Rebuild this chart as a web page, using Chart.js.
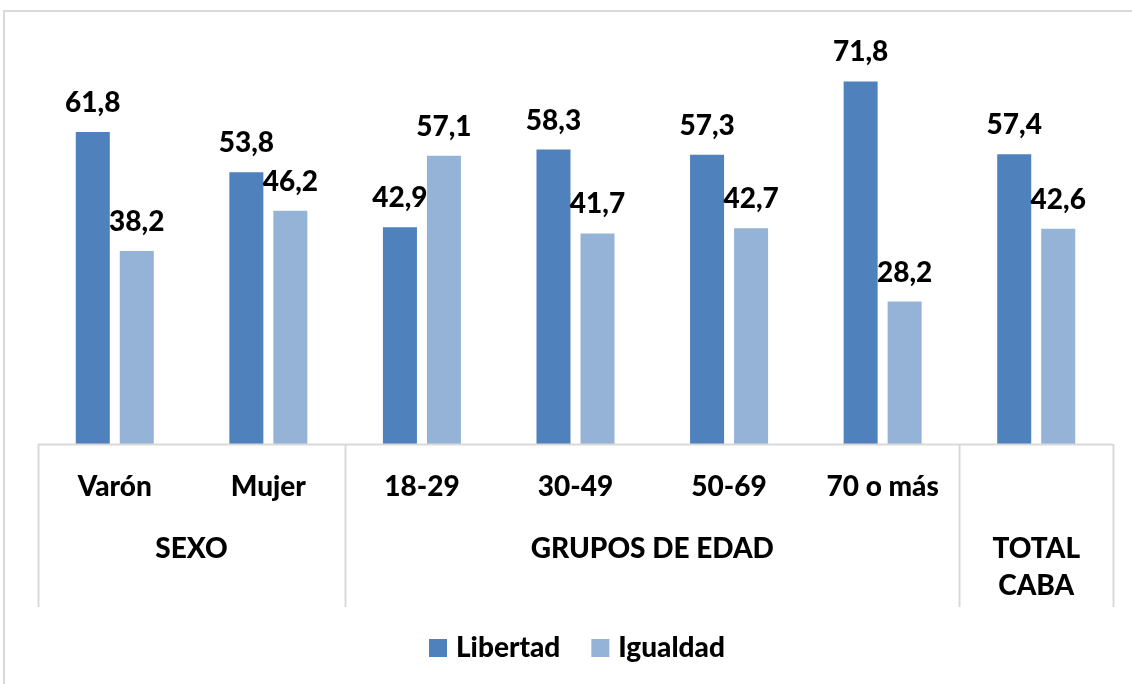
<!DOCTYPE html>
<html>
<head>
<meta charset="utf-8">
<script src="https://cdn.jsdelivr.net/npm/chart.js@4/dist/chart.umd.min.js"></script>
<style>
  html, body { margin: 0; padding: 0; background: #fff; }
  #wrap { position: relative; width: 1132px; height: 684px; }
</style>
</head>
<body>
<div id="wrap"><canvas id="chart" width="1132" height="684"></canvas></div>
<script>
// categorias del eje x y sus grupos
const categories = ['Varón', 'Mujer', '18-29', '30-49', '50-69', '70 o más', ''];
const groupLabels = [['SEXO'], ['GRUPOS DE EDAD'], ['TOTAL', 'CABA']];
const groupSizes = [2, 4, 1];

// valores (%)
const libertad = [61.8, 53.8, 42.9, 58.3, 57.3, 71.8, 57.4];
const igualdad = [38.2, 46.2, 57.1, 41.7, 42.7, 28.2, 42.6];
const seriesNames = ['Libertad', 'Igualdad'];
const seriesColors = ['#4F81BD', '#95B3D7'];

const FONT = '900 28px Lato';
const GRID = '#d9d9d9';

const fmt = v => v.toFixed(1).replace('.', ',');

const decorPlugin = {
    id: 'decor',
    beforeDraw(chart) {
        const ctx = chart.ctx;
        ctx.save();
        ctx.strokeStyle = GRID;
        ctx.lineWidth = 2;
        ctx.strokeRect(4, 11, 1140, 700);
        ctx.restore();
    },
    afterDatasetsDraw(chart) {
        const ctx = chart.ctx;
        const area = chart.chartArea;
        const x = chart.scales.x;
        ctx.save();

        // linea base y separadores de grupos
        ctx.strokeStyle = GRID;
        ctx.lineWidth = 2;
        ctx.beginPath();
        ctx.moveTo(area.left, area.bottom + 0.5);
        ctx.lineTo(area.right, area.bottom + 0.5);
        const sepBottom = area.bottom + 163;
        const edges = [area.left];
        let idx = 0;
        groupSizes.forEach(n => {
            idx += n;
            if (idx < categories.length) {
                edges.push((x.getPixelForValue(idx - 1) + x.getPixelForValue(idx)) / 2);
            } else {
                edges.push(area.right);
            }
        });
        edges.forEach(e => {
            ctx.moveTo(Math.round(e) + 0.5, area.bottom);
            ctx.lineTo(Math.round(e) + 0.5, sepBottom);
        });
        ctx.stroke();

        // etiquetas de valores
        ctx.fillStyle = '#000';
        ctx.font = FONT;
        ctx.textAlign = 'center';
        ctx.textBaseline = 'alphabetic';
        chart.data.datasets.forEach((ds, di) => {
            const meta = chart.getDatasetMeta(di);
            meta.data.forEach((bar, i) => {
                ctx.fillText(fmt(ds.data[i]), bar.x, bar.y - 20);
            });
        });

        // categorias
        categories.forEach((c, i) => {
            if (c) ctx.fillText(c, x.getPixelForValue(i), area.bottom + 52);
        });

        // grupos
        groupLabels.forEach((lines, g) => {
            const cx = (edges[g] + edges[g + 1]) / 2;
            lines.forEach((t, k) => {
                ctx.fillText(t, cx, area.bottom + 114 + k * 37);
            });
        });

        // leyenda
        const widths = seriesNames.map(n => ctx.measureText(n).width);
        const box = 18, gap = 9, spacing = 31;
        const total = widths.reduce((a, w) => a + box + gap + w, 0) + spacing;
        let lx = 429;
        const ly = 648;
        ctx.textAlign = 'left';
        seriesNames.forEach((n, i) => {
            ctx.fillStyle = seriesColors[i];
            ctx.fillRect(lx, ly - box / 2, box, box);
            ctx.fillStyle = '#000';
            ctx.fillText(n, lx + box + gap, ly + 9);
            lx += box + gap + widths[i] + spacing;
        });
        ctx.restore();
    }
};

new Chart(document.getElementById('chart'), {
    type: 'bar',
    data: {
        labels: categories,
        datasets: [
            { label: seriesNames[0], data: libertad, backgroundColor: seriesColors[0] },
            { label: seriesNames[1], data: igualdad, backgroundColor: seriesColors[1] }
        ]
    },
    options: {
        responsive: false,
        animation: false,
        layout: { padding: { top: 40, left: 38, right: 19, bottom: 240 } },
        datasets: { bar: { categoryPercentage: 0.573, barPercentage: 0.773 } },
        plugins: { legend: { display: false }, tooltip: { enabled: false } },
        scales: {
            x: {
                display: true,
                grid: { display: false },
                border: { display: false },
                ticks: { display: false },
                afterFit(scale) { scale.height = 0; }
            },
            y: { display: false, min: 0, max: 80 }
        }
    },
    plugins: [decorPlugin]
});
</script>
</body>
</html>
